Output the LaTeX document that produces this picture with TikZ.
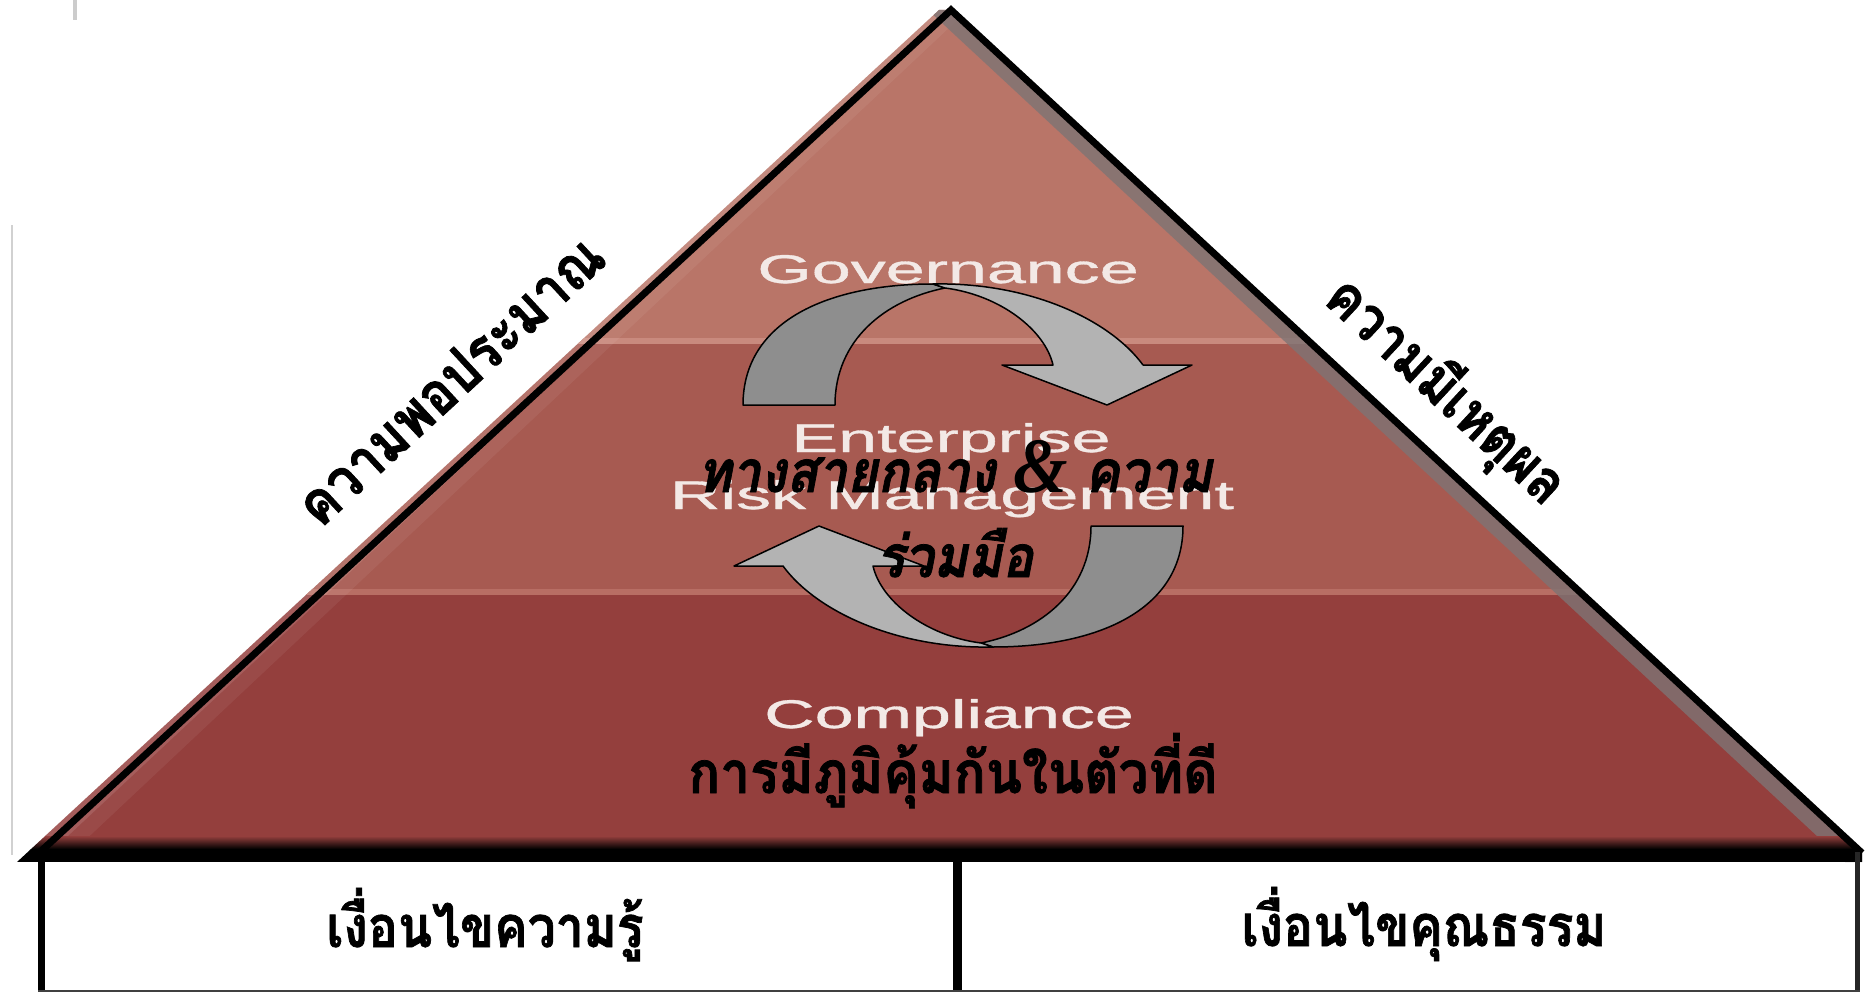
\documentclass[tikz,border=0pt]{standalone}
\usepackage{fontspec}
\setmainfont{Liberation Sans}
\newfontfamily\englfont[FakeBold=0.8]{Liberation Sans}
\newfontfamily\thaifont[Script=Thai, BoldFeatures={FakeBold=1.3}, BoldItalicFeatures={FakeBold=1.3}]{Loma}
\newfontfamily\ampfont{Liberation Serif}
\usetikzlibrary{calc}
\definecolor{bandA}{HTML}{B97568}
\definecolor{bandB}{HTML}{A75A51}
\definecolor{bandC}{HTML}{943F3D}
\definecolor{hlA}{HTML}{C98A7E}
\definecolor{hlB}{HTML}{B86E64}
\definecolor{arrdark}{HTML}{8E8E8E}
\definecolor{arrlight}{HTML}{B3B3B3}
\definecolor{engtext}{HTML}{F3E9E6}
\definecolor{bevelgray}{HTML}{7E7474}
\tikzset{
  engl/.style={font=\englfont\fontsize{40}{44}\selectfont, text=engtext, xscale=1.75, anchor=base, inner sep=0pt},
  thaibold/.style={font=\thaifont\bfseries\fontsize{50}{56}\selectfont, text=black, inner sep=0pt},
  thaiital/.style={font=\thaifont\bfseries\itshape\fontsize{52}{58}\selectfont, text=black, inner sep=0pt, anchor=base},
  arrowdk/.style={fill=arrdark, draw=black, line width=1.5pt, line join=round},
  arrowlt/.style={fill=arrlight, draw=black, line width=1.5pt, line join=round},
  edgeline/.style={line width=7pt, line join=miter, draw=black}
}
\newcommand{\mycurvedarrow}{%
  \path[arrowdk] (743,405) -- (835,405) .. controls (835,340) and (885,300) .. (945,288)
     -- (933,284) .. controls (830,284) and (743,320) .. (743,405) -- cycle;
  \path[arrowlt] (933,284) .. controls (1030,282) and (1110,320) .. (1143,365)
     -- (1192,365) -- (1107,405) -- (1002,365) -- (1053,365)
     .. controls (1045,330) and (1000,295) .. (945,288) -- cycle;
}
\begin{document}
\begin{tikzpicture}[x=1pt,y=-1pt]
\useasboundingbox (0,0) rectangle (1865,995);
\fill[white] (0,0) rectangle (1865,995);
% faint scan marks
\draw[line width=2pt, color=black!18] (12,225) -- (12,855);
\draw[line width=4pt, color=black!20] (75,0) -- (75,20);
% pyramid body
\begin{scope}
  \clip (951,10) -- (1862,852) -- (1862,862) -- (17,862) -- (939,10) -- cycle;
  \fill[bandA] (0,0) rectangle (1865,342);
  \fill[bandB] (0,342) rectangle (1865,594);
  \fill[bandC] (0,594) rectangle (1865,836);
  \fill[hlA] (0,338) rectangle (1865,344);
  \fill[hlB] (0,589) rectangle (1865,595);
  \fill[white, opacity=0.16] (939,10) -- (17,862) -- (40,862) -- (951,10) -- cycle;
  \fill[white, opacity=0.06] (951,10) -- (40,862) -- (62,862) -- (968,10) -- cycle;
  \fill[bevelgray, opacity=0.8] (951,10) -- (1880,862) -- (1845,862) -- (928,10) -- cycle;
  \shade[top color=bandC, bottom color=black] (0,836) rectangle (1865,849);
  \fill[black] (0,849) rectangle (1865,862);
\end{scope}
\draw[edgeline] (39,853) -- (951,10) -- (1862,853);
% English layer labels
\node[engl] (gov) at (948,283) {Governance};
\node[engl] (ent) at (951,452) {Enterprise};
\node[engl] (risk) at (952,509) {Risk Management};
\node[engl] (comp) at (949,728) {Compliance};
% cycle arrows
\mycurvedarrow
\begin{scope}[rotate around={180:(963,465.5)}]
  \mycurvedarrow
\end{scope}
% Thai texts
\node[thaiital, yscale=1.12] (middle1) at (955,492) {ทางสายกลาง {\ampfont\bfseries\itshape\fontsize{70}{70}\selectfont\&} ความ};
\node[thaiital, yscale=1.12] (middle2) at (955,577) {ร่วมมือ};
\node[thaibold, anchor=base, yscale=1.1, font=\thaifont\bfseries\fontsize{53}{58}\selectfont] (immune) at (953,793) {การมีภูมิคุ้มกันในตัวที่ดี};
\node[thaibold, rotate=42.8, yscale=1.15, font=\thaifont\bfseries\fontsize{52}{58}\selectfont] (moderation) at (450,380) {ความพอประมาณ};
\node[thaibold, rotate=-42.8, yscale=1.15, font=\thaifont\bfseries\fontsize{51}{58}\selectfont] (reason) at (1445,392) {ความมีเหตุผล};
% bottom boxes
\draw[line width=7pt] (41,856) -- (41,992);
\draw[line width=9pt] (957,856) -- (957,992);
\draw[line width=5pt, color=black!85] (1857.5,852) -- (1857.5,992);
\draw[line width=2pt, color=black!75] (38,991) -- (1860,991);
\node[thaibold, anchor=base, yscale=1.15] (knowledge) at (485,947) {เงื่อนไขความรู้};
\node[thaibold, anchor=base, yscale=1.15] (virtue) at (1424,946) {เงื่อนไขคุณธรรม};
\end{tikzpicture}
\end{document}
